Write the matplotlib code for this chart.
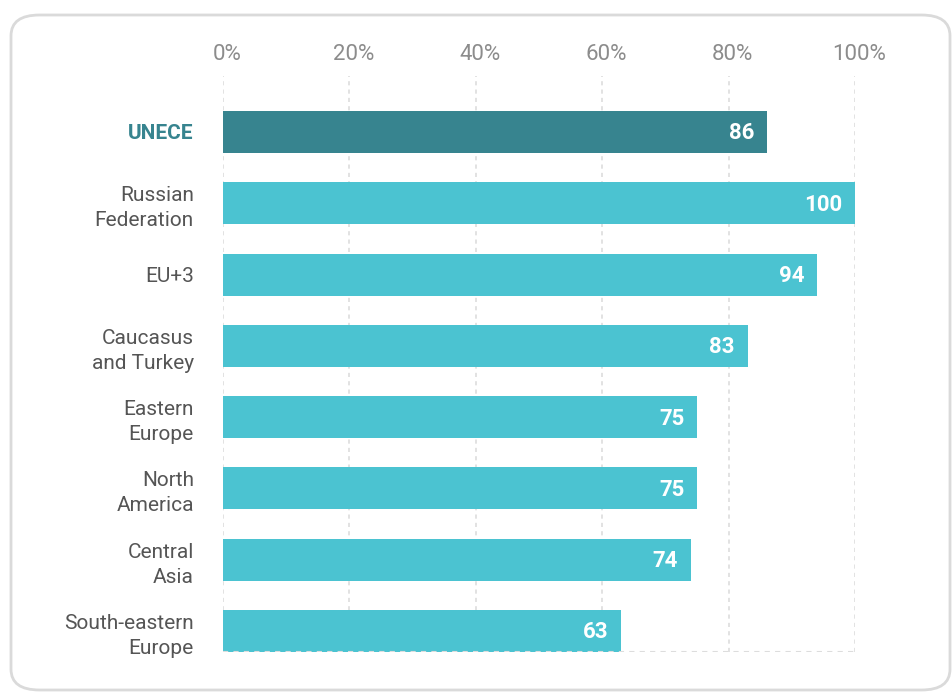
import matplotlib.pyplot as plt
import matplotlib.transforms as mtransforms
from matplotlib.patches import FancyBboxPatch

regions = ["UNECE", "Russian\nFederation", "EU+3", "Caucasus\nand Turkey",
           "Eastern\nEurope", "North\nAmerica", "Central\nAsia",
           "South-eastern\nEurope"]
values = [86, 100, 94, 83, 75, 75, 74, 63]
ticks = [0, 20, 40, 60, 80, 100]
tick_labels = ["0%", "20%", "40%", "60%", "80%", "100%"]

dark = "#37848f"
light = "#4bc3d1"

plt.rcParams['font.family'] = ['Roboto', 'DejaVu Sans']

fig = plt.figure(figsize=(9.52, 6.93), dpi=100)

# rounded card behind the chart
card = FancyBboxPatch((11 / 952, 3 / 693), 939 / 952, 675 / 693,
                      boxstyle="round,pad=0,rounding_size=0.03",
                      transform=fig.transFigure, facecolor="none",
                      edgecolor="#dadada", linewidth=2, zorder=-1)
fig.patches.append(card)

ax = fig.add_axes([223 / 952, 41 / 693, 632 / 952, 576 / 693])
ax.set_facecolor("none")

ypos = list(range(len(regions)))
colors = [dark] + [light] * (len(regions) - 1)
ax.barh(ypos, values, height=0.59, color=colors, zorder=2)

for y, v in zip(ypos, values):
    ax.text(v - 2.0, y + 0.02, str(v), ha="right", va="center", color="white",
            fontsize=16, fontweight="bold", zorder=3)

ax.set_xlim(0, 100)
ax.set_ylim(7.295, -0.785)

ax.set_xticks(ticks)
ax.set_xticklabels(tick_labels)
ax.xaxis.tick_top()
ax.tick_params(axis="x", length=0, pad=8, labelsize=16, labelcolor="#8c8c8c")
shift = mtransforms.ScaledTranslation(4 / 100, 0, fig.dpi_scale_trans)
for lbl in ax.get_xticklabels():
    lbl.set_transform(lbl.get_transform() + shift)

ax.set_yticks(ypos)
ax.set_yticklabels(regions, linespacing=1.4)
ax.tick_params(axis="y", length=0, pad=21, labelsize=15, labelcolor="#555555")
ylabels = ax.get_yticklabels()
ylabels[0].set_color(dark)
ylabels[0].set_fontweight("bold")

for t in ticks:
    ax.axvline(t, color="#dddddd", linestyle=(0, (2.5, 2.5)), linewidth=1.2, zorder=1)
ax.axhline(7.295, color="#dddddd", linestyle=(0, (2.5, 2.5)), linewidth=1.5, zorder=2.5)

for s in ax.spines.values():
    s.set_visible(False)

fig.savefig("out.png", dpi=100)
